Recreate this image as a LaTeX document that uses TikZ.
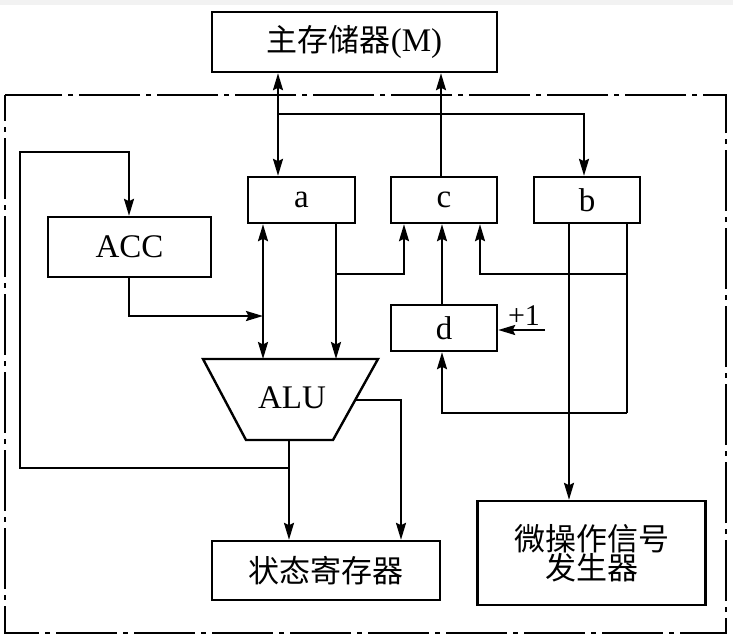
\documentclass[tikz,border=0pt]{standalone}
\usepackage{fontspec}
\setmainfont{Liberation Serif}
\newfontfamily\cjk{Noto Sans CJK SC}
\usetikzlibrary{arrows.meta}
\begin{document}
\begin{tikzpicture}[x=1pt,y=-1pt,
  box/.style={draw, line width=2.4pt, inner sep=0pt, font=\fontsize{33}{36}\selectfont},
  cjkf/.style={font=\cjk\fontsize{31}{34}\selectfont},
  conn/.style={line width=2.3pt},
  tip/.style={-{Stealth[length=17pt,width=10pt,inset=2.5pt]}},
  biti/.style={{Stealth[length=17pt,width=10pt,inset=2.5pt]}-{Stealth[length=17pt,width=10pt,inset=2.5pt]}},
  frame/.style={line width=2.4pt, dash pattern=on 61pt off 6pt on 5pt off 6pt, dash phase=35pt}]
\useasboundingbox (0,0) rectangle (733,638);
\fill[gray!10] (0,0) rectangle (733,5);
% dashed frame
\draw[frame] (5,95) rectangle (726,633);
% boxes
\node[box, minimum width=285pt, minimum height=60pt] (mem) at (354.5,42) {{\cjk\fontsize{31}{34}\selectfont 主存储器}(M)};
\node[box, minimum width=107pt, minimum height=46pt] (a) at (301.5,200) {a};
\node[box, minimum width=106pt, minimum height=46pt] (c) at (444,200) {c};
\node[box, minimum width=106pt, minimum height=46pt] (b) at (587,200) {b};
\node[box, minimum width=163pt, minimum height=60pt] (acc) at (129.5,247) {ACC};
\node[box, minimum width=106pt, minimum height=46pt] (d) at (444,328) {d};
\node[box, cjkf, minimum width=228pt, minimum height=59pt] (st) at (326,570.5) {状态寄存器};
\node[box, cjkf, minimum width=228pt, minimum height=104pt, align=center] (mic) at (591.5,553)
  {微操作信号\\[-5pt]发生器};
% ALU trapezium
\coordinate (alutl) at (203,359);
\coordinate (alutr) at (378,359);
\coordinate (alubr) at (333,440);
\coordinate (alubl) at (246,440);
\draw[line width=2.4pt, line join=miter] (alutl) -- (alutr) -- (alubr) -- (alubl) -- cycle;
\node[font=\fontsize{33}{36}\selectfont] (alu) at (292,398) {ALU};
% x positions
\coordinate (x278) at (278,0);
\coordinate (x441) at (441,0);
\coordinate (x584) at (584,0);
\coordinate (x263) at (263,0);
\coordinate (x336) at (336,0);
\coordinate (x404) at (404,0);
\coordinate (x442) at (442,0);
\coordinate (x480) at (480,0);
\coordinate (x569) at (569,0);
\coordinate (x627) at (627,0);
\coordinate (x289) at (289,0);
\coordinate (x401) at (401,0);
\coordinate (x129) at (129,0);
\coordinate (x20) at (20,0);
\coordinate (y114) at (0,114);
\coordinate (y274) at (0,274);
\coordinate (y316) at (0,316);
\coordinate (y413) at (0,413);
\coordinate (y468) at (0,468);
\coordinate (y152) at (0,152);
\coordinate (aluout) at (356,400);
\coordinate (plus) at (545,330);
% connectors
\draw[conn, biti] (mem.south -| x278) -- (a.north -| x278);
\draw[conn, tip] (x278 |- y114) -| (b.north -| x584);
\draw[conn, tip] (c.north -| x441) -- (mem.south -| x441);
\draw[conn, biti] (a.south -| x263) -- (alutl -| x263);
\draw[conn, tip] (acc.south -| x129) |- (x263 |- y316);
\draw[conn, tip] (a.south -| x336) -- (alutl -| x336);
\draw[conn, tip] (x336 |- y274) -| (c.south -| x404);
\draw[conn] (b.south -| x627) -- (x627 |- y413);
\draw[conn, tip] (x627 |- y274) -| (c.south -| x480);
\draw[conn, tip] (x627 |- y413) -| (d.south -| x442);
\draw[conn, tip] (d.north -| x442) -- (c.south -| x442);
\draw[conn, tip] (plus) -- (d.east |- plus);
\node[font=\fontsize{30}{32}\selectfont, anchor=base, inner sep=0pt] (p1) at (524,325) {+1};
\draw[conn, tip] (b.south -| x569) -- (mic.north -| x569);
\draw[conn, tip] (aluout) -| (st.north -| x401);
\draw[conn, tip] (alubl -| x289) -- (st.north -| x289);
\draw[conn, tip] (x289 |- y468) -| (x20 |- y152) -| (acc.north -| x129);
\end{tikzpicture}
\end{document}
